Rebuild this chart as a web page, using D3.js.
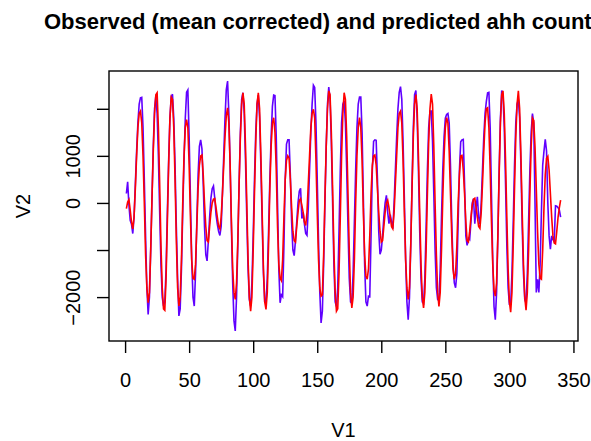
<!DOCTYPE html>
<html>
<head>
<meta charset="utf-8">
<script src="https://cdn.jsdelivr.net/npm/d3@7"></script>
<style>
  body { margin: 0; background: #fff; }
  svg { display: block; font-family: "Liberation Sans", Arial, sans-serif; }
</style>
</head>
<body>
<div id="chart-area"></div>
<script>
// observed (mean corrected) series, t = 1..340
var observed = [
    200, 450, -50, -370, -450, -650, -300, 400, 1100, 1700,
    2100, 2230, 2240, 1600, 500, -700, -1800, -2370, -2000, -1000,
    100, 1200, 2000, 2270, 1900, 1000, -200, -1300, -2000, -2190,
    -2100, -1400, -200, 900, 1800, 2250, 2310, 1800, 800, -500,
    -1600, -2400, -2250, -1400, -200, 900, 1800, 2350, 2400, 1400,
    100, -1200, -2000, -2190, -1500, -400, 600, 1200, 1340, 1150,
    400, -500, -1100, -1230, -800, -300, 100, 300, 360, 100,
    -250, -450, -600, -690, -500, 200, 1000, 1800, 2400, 2590,
    1900, 800, -500, -1700, -2500, -2720, -2000, -900, 400, 1500,
    2200, 2340, 1900, 900, -300, -1400, -2050, -2190, -1700, -700,
    500, 1500, 2100, 2290, 1800, 800, -400, -1500, -2100, -2120,
    -1600, -600, 500, 1400, 2050, 2290, 2280, 1400, 0, -1400,
    -2120, -1950, -1990, -900, 500, 1250, 1340, 1340, 600, -400,
    -1000, -1120, -800, -400, 0, 250, 310, -330, -200, -450,
    -650, -690, -100, 700, 1500, 2100, 2500, 2450, 1700, 500,
    -800, -1900, -2550, -2300, -1300, 0, 1200, 2100, 2460, 2200,
    1300, 0, -1300, -2100, -2200, -1800, -600, 700, 1700, 2100,
    2170, 1700, 700, -500, -1600, -2100, -2130, -1500, -400, 700,
    1600, 2100, 2250, 2250, 1500, 100, -1300, -2100, -2190, -1980,
    -1990, -700, 700, 1310, 1340, 1330, 500, -600, -1090, -1000,
    -700, -300, 0, 160, -200, -440, -250, -400, -550, 0,
    700, 1400, 2000, 2350, 2470, 2200, 1300, 100, -1200, -2100,
    -2480, -2000, -900, 400, 1600, 2300, 2390, 1800, 700, -600,
    -1600, -2100, -2130, -1600, -500, 700, 1600, 1950, 1950, 1300,
    200, -1000, -1800, -2050, -2080, -1400, -300, 700, 1400, 1800,
    1880, 1900, 1700, 800, -400, -1300, -1700, -1800, -1500, -400,
    700, 1300, 1340, 1350, 400, -700, -900, -750, -780, -400,
    0, 90, -440, -100, 130, -300, -450, 0, 700, 1400,
    1900, 2150, 2340, 2350, 1600, 200, -1200, -2200, -2480, -1900,
    -700, 700, 1800, 2390, 2300, 1600, 400, -900, -1800, -2150,
    -2150, -1500, -400, 800, 1700, 2100, 2200, 1800, 800, -500,
    -1500, -2050, -2130, -1500, -400, 700, 1500, 1900, 1700, 0,
    -1900, -1620, -1900, -1300, -200, 800, 1100, 1350, 1100, 0,
    -700, -980, -700, -780, -820, -60, -70, -100, -150, -300
];

// predicted series
var predicted = [
    -120, 20, 70, -150, -400, -550, -300, 300, 1000, 1600,
    1900, 1950, 1700, 1000, 0, -1100, -1800, -2120, -1900, -1000,
    100, 1100, 1900, 2300, 2340, 1600, 400, -900, -1800, -2250,
    -2280, -1600, -400, 800, 1800, 2250, 2200, 1600, 500, -800,
    -1800, -2190, -2000, -1200, 0, 1000, 1600, 1770, 1600, 800,
    -300, -1200, -1600, -1620, -1300, -500, 300, 800, 1000, 1020,
    600, 0, -500, -800, -830, -500, -200, 0, 80, 90,
    -100, -300, -500, -550, -300, 200, 800, 1400, 1850, 2020,
    1700, 800, -400, -1400, -1900, -2050, -1700, -800, 400, 1400,
    2100, 2340, 2100, 1200, 0, -1200, -2000, -2300, -2000, -1000,
    200, 1300, 2100, 2340, 2000, 1000, -200, -1400, -2100, -2260,
    -1900, -900, 300, 1200, 1700, 1810, 1500, 700, -500, -1300,
    -1600, -1650, -1200, -300, 500, 900, 1000, 950, 500, -100,
    -600, -800, -830, -500, -200, 50, 90, -50, -200, -400,
    -480, -200, 400, 1000, 1600, 1900, 1990, 1800, 900, -200,
    -1200, -1800, -1980, -1950, -1100, 100, 1200, 2000, 2380, 2300,
    1500, 300, -1000, -1900, -2300, -2250, -1500, -300, 1000, 1900,
    2340, 2200, 1400, 200, -1000, -1900, -2230, -2000, -1200, 0,
    1000, 1600, 1810, 1600, 900, -200, -1100, -1550, -1620, -1400,
    -700, 200, 800, 1000, 1020, 800, 300, -200, -600, -830,
    -800, -500, -200, 0, 60, -100, -300, -500, -550, -200,
    400, 1000, 1600, 1900, 1950, 1700, 900, -200, -1200, -1800,
    -2050, -1800, -900, 300, 1400, 2100, 2300, 2000, 1000, -200,
    -1300, -2000, -2230, -1900, -1000, 200, 1300, 2000, 2310, 2100,
    1200, 0, -1100, -1900, -2200, -1900, -1000, 100, 1000, 1600,
    1810, 1700, 1100, 200, -700, -1400, -1620, -1500, -900, 0,
    600, 1000, 1010, 700, 200, -400, -800, -830, -600, -300,
    -50, 80, 100, -100, -300, -500, -540, -200, 400, 1100,
    1700, 2000, 2020, 1600, 700, -400, -1300, -1850, -1980, -1700,
    -700, 600, 1700, 2300, 2380, 1900, 900, -300, -1400, -2100,
    -2320, -1900, -900, 300, 1400, 2100, 2380, 2000, 1000, -200,
    -1300, -2000, -2280, -1900, -1000, 200, 1200, 1800, 1750, 1200,
    300, -600, -1300, -1600, -1620, -1000, -100, 600, 950, 990,
    700, 200, -300, -700, -850, -870, -600, -300, -100, 60
];

var xTicks = [0, 50, 100, 150, 200, 250, 300, 350];
var yTicks = [-2000, -1000, 0, 1000, 2000];
var yTickLabels = ["\u22122000", "", "0", "1000", ""];

var margin = {
    left: 109,
    right: 13,
    top: 71,
    bottom: 100,
};

var width = 591 - margin.left - margin.right;
var height = 441 - margin.top - margin.bottom;

var svg = d3.select("#chart-area").append("svg")
    .attr("width", width + margin.left + margin.right)
    .attr("height", height + margin.top + margin.bottom);

var g = svg.append("g")
    .attr("transform", "translate(" + margin.left + ", " + margin.top + ")");

// R style: extend the data range by 4% on each side
var n = observed.length;
var xExt = (n - 1) * 0.04;
var x = d3.scaleLinear()
    .domain([1 - xExt, n + xExt])
    .range([0, width]);

var allVals = observed.concat(predicted);
var yMin = d3.min(allVals), yMax = d3.max(allVals);
var yExt = (yMax - yMin) * 0.04;
var y = d3.scaleLinear()
    .domain([yMin - yExt, yMax + yExt])
    .range([height, 0]);

var line = d3.line()
    .x((d, i) => x(i + 1))
    .y((d) => y(d));

g.append("path")
    .datum(observed)
    .attr("d", line)
    .attr("fill", "none")
    .attr("stroke", "#6000ff")
    .attr("stroke-width", 1.6);

g.append("path")
    .datum(predicted)
    .attr("d", line)
    .attr("fill", "none")
    .attr("stroke", "#ff0000")
    .attr("stroke-width", 1.6);

// box
g.append("rect")
    .attr("x", 0)
    .attr("y", 0)
    .attr("width", width)
    .attr("height", height)
    .attr("fill", "none")
    .attr("stroke", "#000")
    .attr("stroke-width", 1.4);

// x axis
var bottomAxis = d3.axisBottom(x)
    .tickValues(xTicks)
    .tickSize(12)
    .tickPadding(20);
var xAxisG = g.append("g")
    .attr("transform", "translate(0, " + height + ")")
    .call(bottomAxis);
xAxisG.select(".domain").remove();
xAxisG.selectAll("line").attr("stroke", "#000").attr("stroke-width", 1.4);
xAxisG.selectAll("text")
    .attr("font-size", "20px")
    .attr("font-family", "Liberation Sans, Arial, sans-serif")
    .style("fill", "#000");

// y axis
var leftAxis = d3.axisLeft(y)
    .tickValues(yTicks)
    .tickSize(12)
    .tickFormat((d, i) => yTickLabels[i]);
var yAxisG = g.append("g")
    .call(leftAxis);
yAxisG.select(".domain").remove();
yAxisG.selectAll("line").attr("stroke", "#000").attr("stroke-width", 1.4);
yAxisG.selectAll("text")
    .attr("transform", "rotate(-90)")
    .attr("x", 0)
    .attr("y", -29)
    .attr("dy", 0)
    .attr("text-anchor", "middle")
    .attr("font-size", "20px")
    .attr("font-family", "Liberation Sans, Arial, sans-serif")
    .style("fill", "#000");

// X Label
g.append("text")
    .attr("x", width / 2)
    .attr("y", height + 96)
    .attr("font-size", "20px")
    .attr("text-anchor", "middle")
    .style("fill", "black")
    .text("V1");

// Y Label
g.append("text")
    .attr("x", -(height / 2))
    .attr("y", -79)
    .attr("font-size", "20px")
    .attr("text-anchor", "middle")
    .style("fill", "black")
    .attr("transform", "rotate(-90)")
    .text("V2");

// Title (runs off the right edge, as in the original)
svg.append("text")
    .attr("x", 44)
    .attr("y", 29)
    .attr("font-size", "22px")
    .attr("font-weight", "bold")
    .attr("text-anchor", "start")
    .style("fill", "black")
    .text("Observed (mean corrected) and predicted ahh counts");
</script>
</body>
</html>
